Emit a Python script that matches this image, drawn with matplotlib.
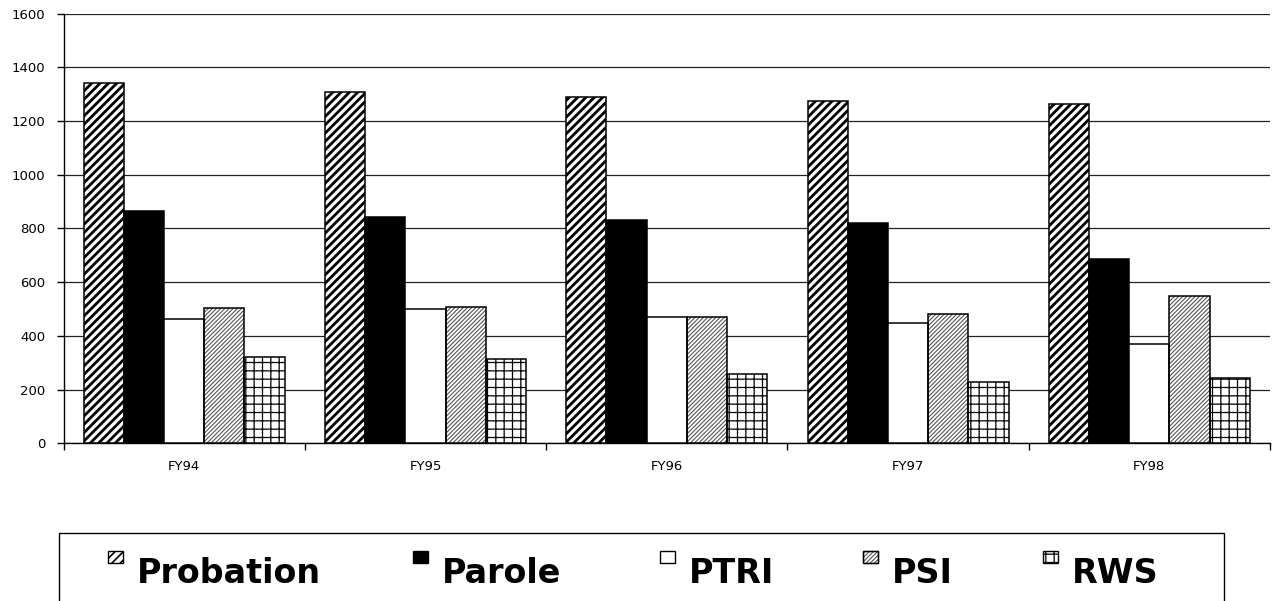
import matplotlib

matplotlib.use("Agg")
import matplotlib.pyplot as plt  # noqa: E402
import numpy as np  # noqa: E402
from matplotlib.patches import Rectangle  # noqa: E402

years = ["FY94", "FY95", "FY96", "FY97", "FY98"]
series_names = ["Probation", "Parole", "PTRI", "PSI", "RWS"]
probation = [1343, 1309, 1291, 1276, 1264]
parole = [866, 844, 831, 822, 685]
ptri = [464, 499, 469, 447, 369]
psi = [503, 506, 471, 480, 549]
rws = [322, 314, 258, 227, 242]

# fill, hatch, hatch colour, hatch line width
styles = [
    dict(face="white", hatch="////", hcolor="black", hlw=2.0),
    dict(face="black", hatch=None, hcolor="black", hlw=1.0),
    dict(face="white", hatch=None, hcolor="black", hlw=1.0),
    dict(face="white", hatch="////////", hcolor="#555555", hlw=0.8),
    dict(face="white", hatch="++", hcolor="black", hlw=0.9),
]

W, H = 1280, 601
fig = plt.figure(figsize=(W / 100, H / 100), dpi=100)
ax = fig.add_axes([63.5 / W, 1 - 443.3 / H, (1270 - 63.5) / W, (443.3 - 13.6) / H])


def set_hatch_width(patches, st):
    for p in patches:
        if hasattr(p, "set_hatch_linewidth"):
            p.set_hatch_linewidth(st["hlw"])


x = np.arange(len(years))
bw = 1 / 6
for i, (vals, st) in enumerate(zip([probation, parole, ptri, psi, rws], styles)):
    pos = x + (i - 2) * bw
    with plt.rc_context({"hatch.linewidth": st["hlw"]}):
        if st["hatch"]:
            bars = ax.bar(pos, vals, bw, color=st["face"], edgecolor=st["hcolor"],
                          hatch=st["hatch"], linewidth=0, zorder=3)
            set_hatch_width(bars, st)
    ax.bar(pos, vals, bw, color=st["face"] if not st["hatch"] else "none",
           edgecolor="black", linewidth=1.1, zorder=4)

ax.set_xlim(-0.5, len(years) - 0.5)
ax.set_ylim(0, 1600)
ax.set_yticks(np.arange(0, 1601, 200))
ax.yaxis.grid(True, color="#222222", linewidth=0.9)
ax.set_axisbelow(True)
for side in ("top", "right"):
    ax.spines[side].set_visible(False)
ax.spines["left"].set_linewidth(1)
ax.spines["bottom"].set_linewidth(1)

ax.set_xticks(x)
ax.set_xticklabels(years)
ax.set_xticks(np.arange(-0.5, len(years)), minor=True)
ax.tick_params(axis="x", which="major", length=0, pad=12, labelsize=9.5)
ax.tick_params(axis="x", which="minor", length=5, width=1, direction="out")
ax.tick_params(axis="y", length=5, width=1, direction="out", pad=8, labelsize=9.5)

# legend box along the bottom
fig.patches.append(Rectangle((59 / W, -0.05), (1224 - 59) / W, 1 - 533 / H + 0.05,
                             transform=fig.transFigure, facecolor="white",
                             edgecolor="black", linewidth=1, clip_on=False))
key_x = [108, 413, 660, 863, 1043]
for name, st, kx in zip(series_names, styles, key_x):
    with plt.rc_context({"hatch.linewidth": min(st["hlw"], 1.2)}):
        key = Rectangle((kx / W, 1 - 563 / H), 15 / W, 12 / H, transform=fig.transFigure,
                        facecolor=st["face"], edgecolor="black", linewidth=1,
                        hatch=st["hatch"])
        if st["hatch"]:
            key.set_edgecolor(st["hcolor"])
        set_hatch_width([key], dict(hlw=min(st["hlw"], 1.2)))
        fig.patches.append(key)
        if st["hatch"] and st["hcolor"] != "black":
            fig.patches.append(Rectangle((kx / W, 1 - 563 / H), 15 / W, 12 / H,
                                         transform=fig.transFigure, facecolor="none",
                                         edgecolor="black", linewidth=1))
    fig.text((kx + 29) / W, 1 - 583 / H, name, fontsize=24, fontweight="bold",
             ha="left", va="baseline")

fig.savefig("out.png", dpi=100)
